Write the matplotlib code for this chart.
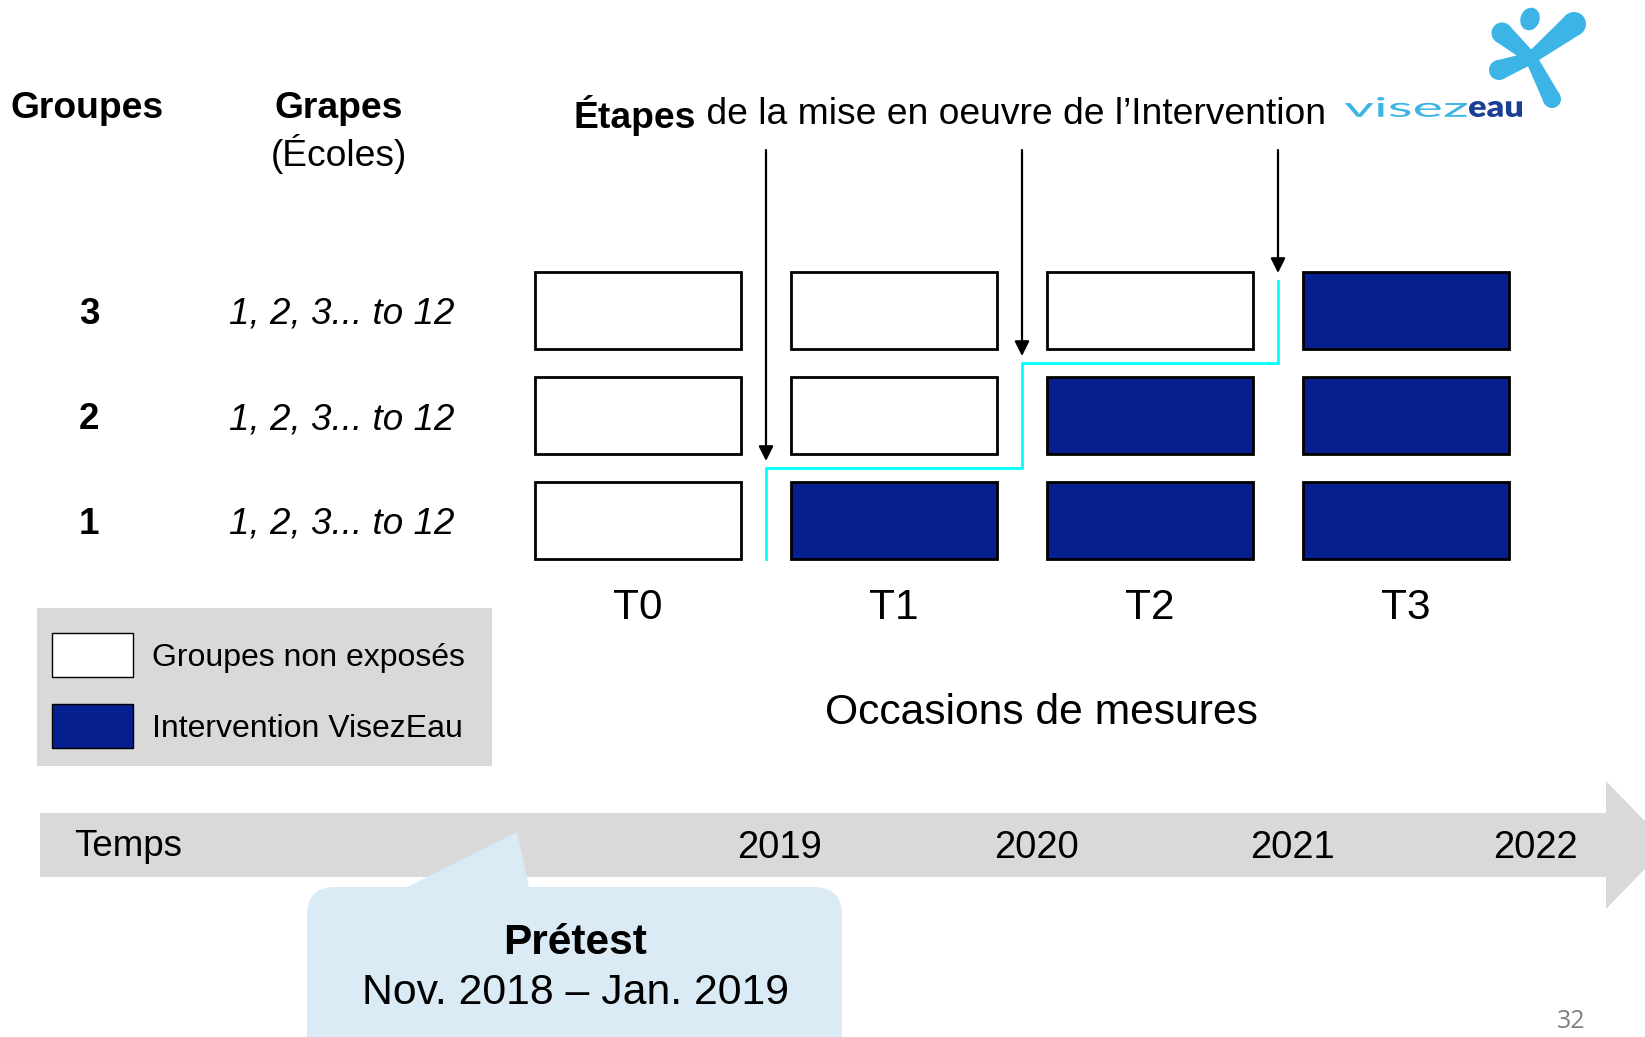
import numpy as np
import matplotlib.pyplot as plt
from matplotlib.patches import Rectangle, FancyBboxPatch, Polygon, PathPatch, Circle, Ellipse
from matplotlib.textpath import TextPath
from matplotlib.font_manager import FontProperties
from matplotlib.transforms import Affine2D

plt.rcParams['font.family'] = ['Liberation Sans', 'DejaVu Sans']

# data
groups = [3, 2, 1]                      # top to bottom
occasions = ['T0', 'T1', 'T2', 'T3']
first_exposed = {1: 1, 2: 2, 3: 3}      # index of first occasion with the intervention
schools = '1, 2, 3... to 12'
years = ['2019', '2020', '2021', '2022']
legend_labels = ['Groupes non exposés', 'Intervention VisezEau']

DARK = '#061e8e'
CYAN = '#00ffff'
GREY = '#d9d9d9'
CALLOUT = '#dbebf6'
LOGO = '#3cb4e5'

W, H = 1645, 1037
fig = plt.figure(figsize=(W / 100, H / 100), dpi=100)
ax = fig.add_axes([0, 0, 1, 1])
ax.set_xlim(0, W)
ax.set_ylim(H, 0)
ax.axis('off')

# grid layout (pixels)
col_x0, col_step, box_w = 535, 256, 206
row_y0, row_step, box_h = 310.5, 105, 77

def col_left(i):
    return col_x0 + i * col_step

def row_mid(k):
    return row_y0 + k * row_step

def gap_x(i):  # gap just before column i
    return col_left(i) - (col_step - box_w) / 2

# headers
ax.text(10, 109, 'Groupes', fontsize=26.8, fontweight='bold', ha='left', va='center')
ax.text(339, 109, 'Grapes', fontsize=26.8, fontweight='bold', ha='center', va='center')
ax.text(339, 154, '(Écoles)', fontsize=26.8, ha='center', va='center')
t = ax.text(574, 115, 'Étapes', fontsize=26.8, fontweight='bold', ha='left', va='center')
ax.annotate(' de la mise en oeuvre de l\u2019Intervention', xy=(1, 0.5), xycoords=t,
            fontsize=26.8, ha='left', va='center')

# boxes
for k, g in enumerate(groups):
    y = row_mid(k)
    ax.text(89, y + 4, str(g), fontsize=26.5, fontweight='bold', ha='center', va='center')
    ax.text(342, y + 4, schools, fontsize=26.5, style='italic', ha='center', va='center')
    for i, occ in enumerate(occasions):
        exposed = i >= first_exposed[g]
        ax.add_patch(Rectangle((col_left(i), y - box_h / 2), box_w, box_h,
                               facecolor=DARK if exposed else 'white',
                               edgecolor='black', lw=2))

for i, occ in enumerate(occasions):
    ax.text(col_left(i) + box_w / 2, 608, occ, fontsize=30.5, ha='center', va='center')
ax.text(1041, 713, 'Occasions de mesures', fontsize=30.7, ha='center', va='center')

# staircase + arrows
order = sorted(first_exposed)            # groups 1, 2, 3 from bottom up
row_of = {g: k for k, g in enumerate(groups)}
xs, ys = [], []
for j, g in enumerate(order):
    k = row_of[g]
    gx = gap_x(first_exposed[g])
    bottom = row_mid(k) + box_h / 2 if j == 0 else (row_mid(k) + row_mid(k + 1)) / 2
    top = (row_mid(k) + row_mid(k - 1)) / 2 if k > 0 else row_mid(k) - box_h / 2 + 9
    xs += [gx, gx]
    ys += [bottom, top]
    tip = top - 7 if k > 0 else top - 8
    ax.annotate('', xy=(gx, tip), xytext=(gx, 150),
                arrowprops=dict(arrowstyle='-|>', color='black', lw=1.6,
                                mutation_scale=22, shrinkA=0, shrinkB=0))
ax.plot(xs, ys, color=CYAN, lw=2, solid_joinstyle='miter')

# legend
ax.add_patch(Rectangle((37, 608), 455, 158, facecolor=GREY, edgecolor='none'))
for j, (lab, fc) in enumerate(zip(legend_labels, ['white', DARK])):
    y = 655 + j * 71
    ax.add_patch(Rectangle((52, y - 22), 81, 44, facecolor=fc, edgecolor='black', lw=1))
    ax.text(152, y + 3, lab, fontsize=23, ha='left', va='center')

# timeline arrow
ax.add_patch(Rectangle((40, 813), 1570, 64, facecolor=GREY, edgecolor='none'))
ax.add_patch(Polygon([(1606, 781), (1668, 845), (1606, 909)], closed=True,
                     facecolor=GREY, edgecolor='none'))
ax.text(74, 846, 'Temps', fontsize=26.5, ha='left', va='center')
year_x = [780, 1037, 1293, 1535]
for yr, x in zip(years, year_x):
    ax.text(x, 848, yr, fontsize=27.5, ha='center', va='center')

# callout
ax.add_patch(FancyBboxPatch((307, 887), 535, 200,
                            boxstyle='round,pad=0,rounding_size=28',
                            facecolor=CALLOUT, edgecolor='none'))
ax.add_patch(Polygon([(397, 892), (517, 832), (530, 892)], closed=True,
                     facecolor=CALLOUT, edgecolor='none'))
ax.text(575, 943, 'Prétest', fontsize=30.5, fontweight='bold', ha='center', va='center')
ax.text(575, 993, 'Nov. 2018 \u2013 Jan. 2019', fontsize=30.8, ha='center', va='center')

ax.text(1571, 1022, '32', fontsize=18, color='#808080', ha='center', va='center',
        family=['Open Sans', 'DejaVu Sans'])

# logo
def stretched(s, x0, x1, top, base, color, weight):
    tp = TextPath((0, 0), s, size=100, prop=FontProperties(family='Lato', weight=weight))
    e = tp.get_extents()
    tr = (Affine2D().translate(-e.x0, -e.y0)
          .scale((x1 - x0) / e.width, -(base - top) / e.height)
          .translate(x0, base) + ax.transData)
    ax.add_patch(PathPatch(tp, transform=tr, facecolor=color, edgecolor='none'))

stretched('visez', 1345, 1467, 97, 117, LOGO, 'normal')
stretched('eau', 1469, 1522, 101, 117, '#1b3f94', 'heavy')

body = np.array([1531.0, 58.0])
ax.add_patch(Circle(body, 8, facecolor=LOGO, edgecolor='none'))
for end, r in [((1574, 24), 12), ((1502, 33), 10.5), ((1499, 70), 10), ((1552, 99), 9)]:
    end = np.array(end)
    d = end - body
    n = np.array([-d[1], d[0]]) / np.hypot(*d)
    ax.add_patch(Polygon([body + 6 * n, end + r * n, end - r * n, body - 6 * n],
                         closed=True, facecolor=LOGO, edgecolor='none'))
    ax.add_patch(Circle(end, r, facecolor=LOGO, edgecolor='none'))
ax.add_patch(Ellipse((1530, 19), 19, 23, angle=20, facecolor=LOGO, edgecolor='none'))

fig.savefig('out.png', dpi=100)
